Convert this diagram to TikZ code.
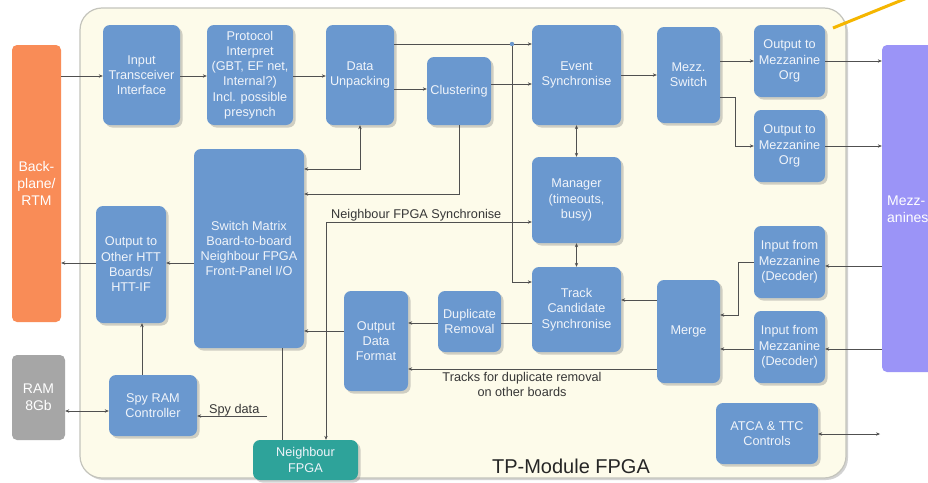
\documentclass[tikz,border=0pt]{standalone}
\usepackage{fontspec}
\setmainfont{Liberation Sans}
\usetikzlibrary{arrows.meta,shadows}
\definecolor{blkblue}{RGB}{106,152,207}
\definecolor{blktext}{RGB}{240,244,250}
\definecolor{cream}{RGB}{253,251,234}
\definecolor{framegrey}{RGB}{196,196,188}
\definecolor{orangebox}{RGB}{249,140,87}
\definecolor{ramgrey}{RGB}{166,166,166}
\definecolor{mzpurple}{RGB}{155,148,247}
\definecolor{teal2}{RGB}{46,163,154}
\definecolor{linegrey}{RGB}{80,80,80}
\definecolor{labelgrey}{RGB}{55,55,55}
\definecolor{yel}{RGB}{245,182,0}
\newcommand\boxfont{\fontsize{12.7}{15.3}\selectfont}
\newcommand\bigboxfont{\fontsize{14}{16.6}\selectfont}
\tikzset{
  blk/.style={draw=none, fill=blkblue, rounded corners=7pt, text=blktext, align=center,
    font=\boxfont, inner sep=1pt,
    drop shadow={shadow xshift=2.5pt, shadow yshift=-2.5pt, opacity=0.3, fill=black!60}},
  sidebox/.style={draw=none, rounded corners=5pt, text=white, align=center, font=\bigboxfont, inner sep=1pt},
  ln/.style={draw=linegrey, line width=0.6pt},
  arr/.style={ln, -{Stealth[length=4pt,width=3.4pt]}},
  darr/.style={ln, {Stealth[length=4pt,width=3.4pt]}-{Stealth[length=4pt,width=3.4pt]}},
  lbl/.style={text=labelgrey, font=\boxfont, inner sep=0pt}
}
\begin{document}
\begin{tikzpicture}[x=1pt,y=-1pt]
\useasboundingbox (0,0) rectangle (928,482);
\fill[white] (0,0) rectangle (928,482);

% FPGA frame
\draw[fill=cream, draw=framegrey, line width=1.2pt, rounded corners=22pt,
  drop shadow={shadow xshift=2pt, shadow yshift=-2pt, opacity=0.35, fill=black!50}]
  (80,8) rectangle (846,478);
\draw[yel, line width=3pt] (833,28) -- (912,-4);

% outside boxes
\node[sidebox, fill=orangebox, minimum width=49pt, minimum height=277pt] (bp) at (36.5,183.5) {Back-\\plane/\\RTM};
\node[sidebox, fill=ramgrey, minimum width=53pt, minimum height=85pt] (ram) at (38.5,397.5) {RAM\\8Gb};
\node[sidebox, fill=mzpurple, minimum width=70pt, minimum height=327pt] (mz) at (917,208.5) {};
\node[text=white, font=\bigboxfont, align=left, anchor=west, inner sep=0pt] (mztext) at (887,209) {Mezz-\\anines};

% blocks
\node[blk, minimum width=77pt, minimum height=100pt] (iti) at (141.5,75) {Input\\Transceiver\\Interface};
\node[blk, minimum width=86pt, minimum height=100pt] (pi) at (250,75) {Protocol\\Interpret\\(GBT, EF net,\\Internal?)\\Incl. possible\\presynch};
\node[blk, minimum width=68pt, minimum height=100pt] (du) at (360,75) {Data\\Unpacking};
\node[blk, minimum width=64pt, minimum height=68pt] (cl) at (459,91) {Clustering};
\node[blk, minimum width=89pt, minimum height=100pt] (es) at (576.5,75) {Event\\Synchronise};
\node[blk, minimum width=63pt, minimum height=96pt] (ms) at (688.5,75) {Mezz.\\Switch};
\node[blk, minimum width=71pt, minimum height=72pt] (om1) at (789.5,61) {Output to\\Mezzanine\\Org};
\node[blk, minimum width=71pt, minimum height=72pt] (om2) at (789.5,146) {Output to\\Mezzanine\\Org};
\node[blk, minimum width=89pt, minimum height=86pt] (mg) at (576.5,200) {Manager\\(timeouts,\\busy)};
\node[blk, minimum width=89pt, minimum height=85pt] (tc) at (576.5,309.5) {Track\\Candidate\\Synchronise};
\node[blk, minimum width=63pt, minimum height=61pt] (dr) at (469.5,321.5) {Duplicate\\Removal};
\node[blk, minimum width=64pt, minimum height=100pt] (odf) at (376,341) {Output\\Data\\Format};
\node[blk, minimum width=63pt, minimum height=103pt] (merge) at (688.5,331.5) {Merge};
\node[blk, minimum width=71pt, minimum height=72pt] (im1) at (789.5,262) {Input from\\Mezzanine\\(Decoder)};
\node[blk, minimum width=71pt, minimum height=72pt] (im2) at (789.5,347) {Input from\\Mezzanine\\(Decoder)};
\node[blk, minimum width=102pt, minimum height=61pt] (atca) at (767,433.5) {ATCA \& TTC\\Controls};
\node[blk, minimum width=110pt, minimum height=199pt] (sw) at (249,248.5) {Switch Matrix\\Board-to-board\\Neighbour FPGA\\Front-Panel I/O};
\node[blk, minimum width=70pt, minimum height=117pt] (oh) at (131,264.5) {Output to\\Other HTT\\Boards/\\HTT-IF};
\node[blk, minimum width=88pt, minimum height=61pt] (spy) at (153,405.5) {Spy RAM\\Controller};
\node[blk, fill=teal2, minimum width=105pt, minimum height=40pt] (nf) at (305.5,460) {Neighbour\\FPGA};

% labels
\node[lbl, anchor=base west] (lnfs) at (331,218.5) {Neighbour FPGA Synchronise};
\node[lbl, anchor=base west] (lspy) at (209,413) {Spy data};
\node[lbl, align=center, anchor=north] (ltr) at (522,372) {Tracks for duplicate removal\\on other boards};
\node[text=black!85, font=\fontsize{20}{24}\selectfont, anchor=base, inner sep=0pt] (ltitle) at (571,473) {TP-Module FPGA};

% connectors, top row
\draw[arr] (bp.east |- 0,76) -- (iti.west |- 0,76);
\draw[arr] (iti.east |- 0,76) -- (pi.west |- 0,76);
\draw[arr] (pi.east |- 0,76) -- (du.west |- 0,76);
\draw[arr] (du.east |- 0,44) -- (es.west |- 0,44);
\coordinate (jn) at (512,44);
\draw[arr] (jn) |- (tc.west |- 0,282);
\fill[blkblue] (jn) circle (2.2);
\draw[arr] (du.east |- 0,89) -- (cl.west |- 0,89);
\draw[arr] (cl.east |- 0,84) -- (es.west |- 0,84);
\draw[arr] (es.east) -- (ms.west);
\draw[arr] (ms.east |- om1.west) -- (om1.west);
\draw[arr] (ms.east |- 0,97) -- (735,97) |- (om2.west);
\draw[arr] (om1.east) -- (mz.west |- om1.east);
\draw[arr] (om2.east) -- (mz.west |- om2.east);

% manager column
\draw[darr] (es.south) -- (mg.north);
\draw[darr] (mg.south) -- (tc.north);

% switch matrix links
\draw[darr] (du.south) |- (sw.east |- 0,169);
\draw[arr] (cl.south) |- (sw.east |- 0,194);
\coordinate (nfs) at (326,222);
\draw[arr] (nfs) -- (mg.west |- nfs);
\draw[arr] (nfs) -- (nfs |- nf.north);
\draw[ln] (sw.south -| 282,0) -- (nf.north -| 282,0);

% lower chain
\draw[ln] (tc.west |- 0,323) -- (dr.east |- 0,323);
\draw[arr] (dr.west |- 0,323) -- (odf.east |- 0,323);
\draw[arr] (odf.west |- 0,331) -- (sw.east |- 0,331);
\draw[arr] (merge.west |- 0,300) -- (tc.east |- 0,300);
\draw[arr] (merge.west |- 0,369) -- (odf.east |- 0,369);
\draw[arr] (im1.west) -- (738,262) |- (merge.east |- 0,315);
\draw[arr] (im2.west |- 0,349) -- (merge.east |- 0,349);
\draw[arr] (mz.west |- 0,266) -- (im1.east |- 0,266);
\draw[arr] (mz.west |- 0,349) -- (im2.east |- 0,349);
\coordinate (atcaend) at (880,434);
\draw[darr] (atca.east |- atcaend) -- (atcaend);

% left side
\draw[arr] (sw.west |- 0,263) -- (oh.east |- 0,263);
\draw[arr] (oh.west |- 0,263) -- (bp.east |- 0,263);
\draw[arr] (spy.north -| 142,0) -- (oh.south -| 142,0);
\draw[darr] (spy.west |- 0,411) -- (ram.east |- 0,411);
\coordinate (spyin) at (267,416);
\draw[arr] (spyin) -- (spy.east |- spyin);
\end{tikzpicture}
\end{document}
